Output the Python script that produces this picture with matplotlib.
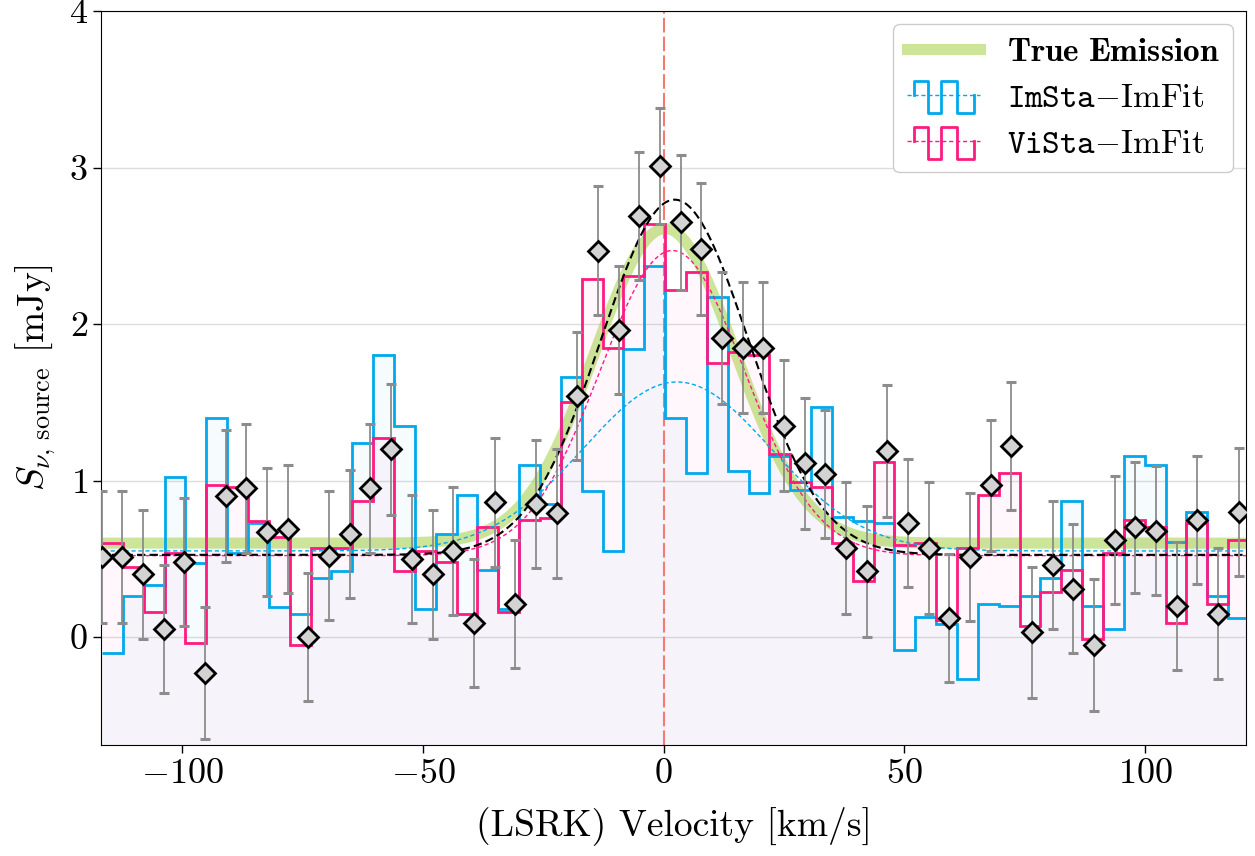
import numpy as np
import matplotlib
matplotlib.use('Agg')
import matplotlib.pyplot as plt
from matplotlib.lines import Line2D
from matplotlib.legend_handler import HandlerBase

plt.rcParams['font.family'] = 'serif'
plt.rcParams['font.serif'] = ['cmr10']
plt.rcParams['mathtext.fontset'] = 'cm'
plt.rcParams['axes.formatter.use_mathtext'] = True
plt.rcParams['axes.unicode_minus'] = True

# channel grids [km/s]
vel = np.linspace(-116.76, 119.52, 56)      # fitted points
edges = np.linspace(-116.69, 121.63, 56)    # image-plane spectra (55 channels)

# flux from visibility fit [mJy]
flux = [0.51, 0.51, 0.40, 0.05, 0.48, -0.23, 0.90, 0.95, 0.67, 0.69,
        0.00, 0.52, 0.66, 0.95, 1.20, 0.50, 0.40, 0.55, 0.09, 0.86,
        0.21, 0.85, 0.79, 1.54, 2.47, 1.96, 2.69, 3.01, 2.65, 2.48,
        1.91, 1.85, 1.85, 1.35, 1.11, 1.04, 0.57, 0.42, 1.19, 0.73,
        0.57, 0.12, 0.51, 0.97, 1.22, 0.03, 0.46, 0.31, -0.05, 0.62,
        0.70, 0.68, 0.20, 0.75, 0.15, 0.80]
flux_err = [0.42, 0.42, 0.41, 0.41, 0.41, 0.42, 0.42, 0.41, 0.41, 0.41,
            0.41, 0.41, 0.41, 0.41, 0.42, 0.41, 0.41, 0.41, 0.41, 0.41,
            0.41, 0.41, 0.41, 0.41, 0.41, 0.41, 0.41, 0.37, 0.43, 0.42,
            0.42, 0.42, 0.42, 0.42, 0.42, 0.41, 0.42, 0.42, 0.42, 0.41,
            0.42, 0.41, 0.41, 0.42, 0.41, 0.42, 0.41, 0.41, 0.42, 0.41,
            0.42, 0.41, 0.41, 0.41, 0.42, 0.41]

imsta = [-0.10, 0.26, 0.33, 1.02, 0.47, 1.40, 0.54, 0.73, 0.19, 0.15,
         0.38, 0.42, 1.24, 1.80, 1.35, 0.18, 0.66, 0.91, 0.43, 0.18,
         1.10, 0.85, 1.66, 0.93, 0.55, 1.84, 2.37, 1.40, 1.05, 2.17,
         1.06, 0.92, 1.16, 0.94, 1.47, 0.77, 0.74, 0.73, -0.08, 0.13,
         0.08, -0.27, 0.21, 0.20, 0.26, 0.38, 0.87, 0.20, 0.05, 1.16,
         1.10, 0.61, 0.80, 0.26, 0.12]
vista = [0.60, 0.45, 0.16, 0.54, -0.04, 0.97, 0.96, 0.74, 0.64, -0.05,
         0.57, 0.57, 0.87, 1.27, 0.42, 0.55, 0.48, 0.15, 0.70, 0.16,
         0.75, 0.76, 1.50, 2.29, 1.85, 2.31, 2.64, 2.22, 2.33, 1.75,
         1.82, 1.80, 1.17, 0.99, 0.96, 0.60, 0.36, 1.12, 0.59, 0.60,
         0.11, 0.57, 0.91, 1.05, 0.07, 0.29, 0.43, -0.01, 0.54, 0.75,
         0.70, 0.09, 0.73, 0.21, 0.62]

# gaussian models: offset, amplitude, centre, sigma
true_pars = [0.60, 2.01, 0.3, 14.6]
fit_pars = [0.525, 2.27, 2.3, 15.3]
vista_pars = [0.52, 1.95, 1.8, 15.0]
imsta_pars = [0.55, 1.08, 2.8, 19.5]

c_blue = '#00a8ec'
c_pink = '#ff1a80'


def gauss(v, p):
    return p[0] + p[1] * np.exp(-(v - p[2])**2 / (2 * p[3]**2))


class StepHandler(HandlerBase):
    def __init__(self, color):
        super().__init__()
        self.color = color

    def create_artists(self, legend, orig_handle, xdescent, ydescent,
                       width, height, fontsize, trans):
        x0 = -xdescent
        ym = -ydescent + height / 2
        t, b = ym + 0.6 * height, ym - 0.75 * height
        fx = np.array([0.1, 0.1, 0.29, 0.29, 0.47, 0.47, 0.68, 0.68, 0.92, 0.92])
        fy = [ym, t, t, b, b, t, t, b, b, ym]
        dash = Line2D([x0, x0 + width], [ym, ym], color=self.color, lw=1,
                      ls=(0, (3, 2)), transform=trans)
        wave = Line2D(x0 + fx * width, fy, color=self.color, lw=2, transform=trans)
        return [dash, wave]


fig, ax = plt.subplots(figsize=(12.55, 8.56), dpi=100)
fig.subplots_adjust(left=0.0805, right=0.9928, top=0.987, bottom=0.1297)

ax.stairs(imsta, edges, baseline=-5, fill=True, color=c_blue, alpha=0.035, lw=0, zorder=1)
ax.stairs(vista, edges, baseline=-5, fill=True, color=c_pink, alpha=0.03, lw=0, zorder=1)
ax.stairs(imsta, edges, baseline=None, color=c_blue, lw=2, zorder=3)
ax.stairs(vista, edges, baseline=None, color=c_pink, lw=2, zorder=3.1)

ax.axvline(0, color='#f27b72', lw=1.5, ls=(0, (7, 2)), zorder=2)

vv = np.linspace(-125, 125, 800)
ax.plot(vv, gauss(vv, true_pars), color='yellowgreen', alpha=0.5, lw=8, zorder=2.5,
        solid_capstyle='butt')
ax.plot(vv, gauss(vv, imsta_pars), color=c_blue, lw=1, ls=(0, (3, 2)), zorder=4)
ax.plot(vv, gauss(vv, vista_pars), color=c_pink, lw=1, ls=(0, (3, 2)), zorder=4)
ax.plot(vv, gauss(vv, fit_pars), color='k', lw=1.5, ls=(0, (4, 2)), zorder=4.1)

ax.errorbar(vel, flux, yerr=flux_err, fmt='none', ecolor='#8c8c8c', elinewidth=1.3,
            capsize=3.5, capthick=2.2, zorder=5)
ax.plot(vel, flux, 'D', ms=10.5, mfc='#d3d3d3', mec='k', mew=2, zorder=6, clip_on=True)

ax.set_xlim(-116.9, 121.0)
ax.set_ylim(-0.69, 4.0)
ax.set_yticks([0, 1, 2, 3, 4])
ax.set_xticks([-100, -50, 0, 50, 100])
ax.yaxis.grid(True, color='#dddddd', lw=1, zorder=0)
ax.set_axisbelow(True)
ax.tick_params(labelsize=26, direction='out', length=6, width=1)
ax.set_xlabel('(LSRK) Velocity [km/s]', fontsize=27, labelpad=12)
ax.set_ylabel(r'$S_{\nu,\,\mathrm{source}}$ [mJy]', fontsize=27, labelpad=8)

h_true = Line2D([], [], color='yellowgreen', alpha=0.5, lw=8)
h_im = Line2D([], [], color=c_blue)
h_vi = Line2D([], [], color=c_pink)
ax.legend([h_true, h_im, h_vi],
          [r'$\mathbf{True\ Emission}$', r'$\mathtt{ImSta}{-}\mathrm{ImFit}$',
           r'$\mathtt{ViSta}{-}\mathrm{ImFit}$'],
          handler_map={h_im: StepHandler(c_blue), h_vi: StepHandler(c_pink)},
          loc='upper right', fontsize=24, handlelength=2.2, framealpha=1,
          edgecolor='#cccccc', fancybox=True, borderaxespad=0.4)

fig.savefig('out.png', dpi=100)
